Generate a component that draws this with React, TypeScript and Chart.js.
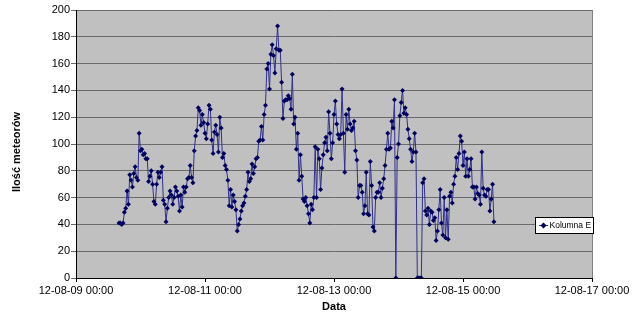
import React, { useEffect, useRef } from 'react';
import { Chart, registerables } from 'chart.js';

Chart.register(...registerables);

// Series: meteor counts, sampled every 30 minutes starting 12-08-09 16:00
const seriesName = 'Kolumna E';
const startHour = 16; // hours after 12-08-09 00:00
const stepHours = 0.5;
const counts: number[] = [
  41, 41, 40, 41, 49, 52, 65, 55, 77, 73,
  68, 78, 83, 75, 73, 108, 95, 96, 92, 93,
  89, 89, 72, 76, 80, 70, 57, 55, 70, 79,
  75, 79, 83, 58, 55, 42, 52, 60, 65, 62, 55,
  60, 68, 65, 61, 50, 62, 53, 68, 64, 68,
  74, 75, 84, 75, 71, 95, 106, 110, 127, 125,
  114, 122, 116, 108, 104, 115,
  129, 126, 103, 93, 109, 114, 107, 94, 120, 112,
  90, 93, 84, 81, 73, 54, 66, 53, 62, 57,
  51, 35, 40, 44, 50, 54, 56, 61, 66, 79, 72,
  74, 85, 78, 83, 89, 90, 102, 103, 113, 103,
  122, 129, 156, 160, 141, 167, 174, 166, 153, 171,
  188, 170, 170, 146, 119, 132, 133, 133, 136, 134,
  126, 152, 115, 120, 96, 108, 73, 92, 76, 59,
  57,
  60, 54, 48, 41, 55, 51, 60, 98, 60, 96,
  89, 66, 82, 92, 101, 105, 95, 124, 108, 89,
  101, 122, 132, 115, 107, 104, 107, 141, 108, 79,
  122, 111, 126, 115, 110, 112, 117, 95, 88, 60,
  69, 69, 64, 48, 54, 79, 48, 47, 87, 69,
  38, 35, 60, 64, 64, 71, 60, 67, 74, 84,
  96, 108, 96, 97, 117, 112, 133, 0,
  90, 100, 121, 131, 140, 123, 127, 122, 111, 104,
  96, 87, 94, 108, 94, 0, 0, 0, 0, 71,
  74, 50, 47, 52, 40, 50, 49, 43, 45, 28,
  35, 51, 66, 41, 32, 60, 30, 51, 29, 61,
  64, 56, 70, 76, 90, 81, 93, 106, 102, 84,
  94, 76, 89, 76, 81, 89, 68, 68, 59, 68,
  63, 62, 55, 94, 67, 62, 61, 66, 66, 50,
  59, 70, 42,
];

const xTickHours = [0, 48, 96, 144, 192];
const xTickLabels = ['12-08-09 00:00', '12-08-11 00:00', '12-08-13 00:00', '12-08-15 00:00', '12-08-17 00:00'];
const yMin = 0;
const yMax = 200;
const yStep = 20;
const xTitle = 'Data';
const yTitle = 'Ilość meteorów';

const FONT = "'Liberation Sans', Arial, sans-serif";

const plotBg = {
  id: 'plotBg',
  beforeDraw(chart: any) {
    const { ctx, chartArea: a } = chart;
    ctx.save();
    ctx.fillStyle = '#c0c0c0';
    ctx.fillRect(a.left, a.top, a.right - a.left, a.bottom - a.top);
    ctx.restore();
  },
  afterDraw(chart: any) {
    const { ctx, chartArea: a } = chart;
    ctx.save();
    ctx.strokeStyle = '#808080';
    ctx.lineWidth = 1;
    ctx.beginPath();
    ctx.moveTo(Math.round(a.right) + 0.5, a.top);
    ctx.lineTo(Math.round(a.right) + 0.5, a.bottom);
    ctx.stroke();
    // y axis title
    ctx.fillStyle = '#000';
    ctx.font = `bold 11px ${FONT}`;
    ctx.textAlign = 'center';
    ctx.textBaseline = 'middle';
    ctx.translate(17, 152);
    ctx.rotate(-Math.PI / 2);
    ctx.fillText(yTitle, 0, 0);
    ctx.setTransform(1, 0, 0, 1, 0, 0);
    // legend box
    const bx = Math.round(a.right) - 56.5;
    const by = 217.5;
    const bw = 58;
    const bh = 16;
    ctx.fillStyle = '#ffffff';
    ctx.fillRect(bx, by, bw, bh);
    ctx.strokeStyle = '#000000';
    ctx.strokeRect(bx, by, bw, bh);
    const cy = by + bh / 2;
    ctx.strokeStyle = '#303090';
    ctx.beginPath();
    ctx.moveTo(bx + 3.5, cy);
    ctx.lineTo(bx + 12.5, cy);
    ctx.stroke();
    ctx.fillStyle = '#000060';
    ctx.beginPath();
    const mx = bx + 8;
    ctx.moveTo(mx, cy - 3);
    ctx.lineTo(mx + 3, cy);
    ctx.lineTo(mx, cy + 3);
    ctx.lineTo(mx - 3, cy);
    ctx.closePath();
    ctx.fill();
    ctx.fillStyle = '#000000';
    ctx.font = `8.5px ${FONT}`;
    ctx.textBaseline = 'middle';
    ctx.textAlign = 'left';
    ctx.fillText(seriesName, bx + 14, cy + 0.5);
    ctx.restore();
  },
};

export default function App() {
  const ref = useRef<HTMLCanvasElement | null>(null);

  useEffect(() => {
    if (!ref.current) return;
    const data = counts.map((v, i) => ({ x: startHour + i * stepHours, y: v }));
    const chart = new Chart(ref.current, {
      type: 'line',
      data: {
        datasets: [
          {
            label: seriesName,
            data,
            borderColor: '#303090',
            backgroundColor: '#000060',
            borderWidth: 1,
            pointStyle: 'rectRot',
            pointRadius: 2.5,
            pointBorderWidth: 0,
            pointBackgroundColor: '#000060',
            tension: 0,
            fill: false,
          },
        ],
      },
      options: {
        animation: false,
        responsive: false,
        maintainAspectRatio: false,
        layout: { padding: { left: 0, right: 48, top: 10, bottom: 0 } },
        plugins: { legend: { display: false }, tooltip: { enabled: false } },
        scales: {
          x: {
            type: 'linear',
            min: xTickHours[0],
            max: xTickHours[xTickHours.length - 1],
            ticks: {
              stepSize: 48,
              autoSkip: false,
              maxRotation: 0,
              color: '#000',
              padding: 2,
              font: { family: FONT, size: 11 },
              callback: (v: any) => {
                const i = xTickHours.indexOf(Number(v));
                return i >= 0 ? xTickLabels[i] : '';
              },
            },
            grid: { drawOnChartArea: false, drawTicks: true, tickLength: 4, color: '#000' },
            border: { color: '#000', width: 1 },
            title: {
              display: true,
              text: xTitle,
              color: '#000',
              font: { family: FONT, size: 11, weight: 'bold' },
              padding: { top: 0, bottom: 4 },
            },
            afterFit: (s: any) => {
              s.height = 40;
            },
          },
          y: {
            min: yMin,
            max: yMax,
            ticks: {
              stepSize: yStep,
              color: '#000',
              padding: 1,
              font: { family: FONT, size: 11 },
            },
            grid: { color: '#6a6a6a', tickLength: 5, lineWidth: 1 },
            border: { color: '#000', width: 1 },
            title: { display: false },
            afterFit: (s: any) => {
              s.width = 76;
            },
          },
        },
      },
      plugins: [plotBg],
    });
    return () => chart.destroy();
  }, []);

  return (
    <div style={{ position: 'fixed', left: 0, top: 0, width: 640, height: 318, background: '#fff' }}>
      <canvas ref={ref} width={640} height={318} style={{ width: 640, height: 318, display: 'block' }} />
    </div>
  );
}
